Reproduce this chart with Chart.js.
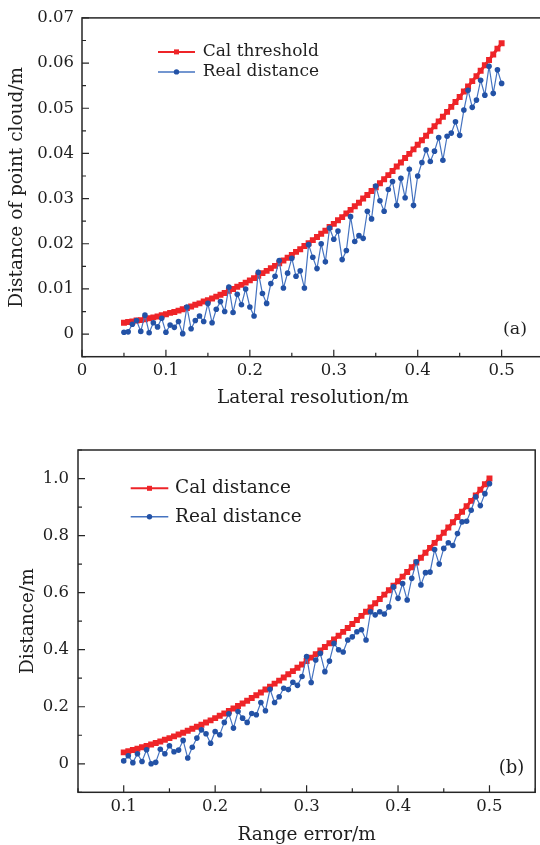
<!DOCTYPE html>
<html>
<head>
<meta charset="utf-8">
<script src="https://cdn.jsdelivr.net/npm/chart.js@4.4.0/dist/chart.umd.min.js"></script>
<style>
  html, body { margin: 0; padding: 0; background: #fff; overflow: hidden; width: 540px; height: 845px; }
  canvas { position: absolute; left: 0; }
  #chartA { top: 0; }
  #chartB { top: 430px; }
</style>
</head>
<body>
<canvas id="chartA" width="560" height="420"></canvas>
<canvas id="chartB" width="540" height="425"></canvas>
<script>
// panel (a): lateral resolution vs distance of point cloud
const xA = [
  0.05, 0.055, 0.06, 0.065, 0.07, 0.075, 0.08, 0.085, 0.09, 0.095,
  0.1, 0.105, 0.11, 0.115, 0.12, 0.125, 0.13, 0.135, 0.14, 0.145,
  0.15, 0.155, 0.16, 0.165, 0.17, 0.175, 0.18, 0.185, 0.19, 0.195,
  0.2, 0.205, 0.21, 0.215, 0.22, 0.225, 0.23, 0.235, 0.24, 0.245,
  0.25, 0.255, 0.26, 0.265, 0.27, 0.275, 0.28, 0.285, 0.29, 0.295,
  0.3, 0.305, 0.31, 0.315, 0.32, 0.325, 0.33, 0.335, 0.34, 0.345,
  0.35, 0.355, 0.36, 0.365, 0.37, 0.375, 0.38, 0.385, 0.39, 0.395,
  0.4, 0.405, 0.41, 0.415, 0.42, 0.425, 0.43, 0.435, 0.44, 0.445,
  0.45, 0.455, 0.46, 0.465, 0.47, 0.475, 0.48, 0.485, 0.49, 0.495,
  0.5
];
const calA = [
  0.0025, 0.0027, 0.0028, 0.0030, 0.0031, 0.0033, 0.0035, 0.0037, 0.0039, 0.0042,
  0.0044, 0.0047, 0.0049, 0.0052, 0.0055, 0.0058, 0.0061, 0.0065, 0.0068, 0.0072,
  0.0075, 0.0079, 0.0083, 0.0087, 0.0091, 0.0096, 0.0100, 0.0105, 0.0109, 0.0114,
  0.0119, 0.0124, 0.0129, 0.0135, 0.0140, 0.0146, 0.0151, 0.0157, 0.0163, 0.0169,
  0.0175, 0.0182, 0.0188, 0.0195, 0.0201, 0.0208, 0.0215, 0.0222, 0.0229, 0.0237,
  0.0244, 0.0252, 0.0259, 0.0267, 0.0275, 0.0283, 0.0291, 0.0300, 0.0308, 0.0317,
  0.0325, 0.0334, 0.0343, 0.0352, 0.0361, 0.0371, 0.0380, 0.0390, 0.0399, 0.0409,
  0.0419, 0.0429, 0.0439, 0.0450, 0.0460, 0.0471, 0.0481, 0.0492, 0.0503, 0.0514,
  0.0525, 0.0537, 0.0548, 0.0560, 0.0571, 0.0583, 0.0595, 0.0607, 0.0619, 0.0632,
  0.0644
];
const realA = [
  0.0004, 0.0005, 0.0022, 0.0030, 0.0006, 0.0042, 0.0003, 0.0025, 0.0016, 0.0035,
  0.0004, 0.0020, 0.0015, 0.0028, 0.0001, 0.0060, 0.0012, 0.0030, 0.0040, 0.0028,
  0.0068, 0.0025, 0.0055, 0.0072, 0.0050, 0.0104, 0.0048, 0.0088, 0.0065, 0.0100,
  0.0060, 0.0040, 0.0137, 0.0090, 0.0068, 0.0112, 0.0128, 0.0163, 0.0102, 0.0135,
  0.0168, 0.0128, 0.0140, 0.0102, 0.0198, 0.0170, 0.0145, 0.0200, 0.0160, 0.0235,
  0.0210, 0.0228, 0.0165, 0.0185, 0.0260, 0.0205, 0.0218, 0.0212, 0.0272, 0.0255,
  0.0328, 0.0295, 0.0272, 0.0320, 0.0338, 0.0285, 0.0345, 0.0302, 0.0365, 0.0285,
  0.0350, 0.0380, 0.0408, 0.0382, 0.0405, 0.0435, 0.0385, 0.0438, 0.0445, 0.0470,
  0.0440, 0.0496, 0.0540, 0.0502, 0.0518, 0.0562, 0.0529, 0.0593, 0.0533, 0.0585,
  0.0555
];

// panel (b): range error vs distance
const xB = [
  0.1, 0.105, 0.11, 0.115, 0.12, 0.125, 0.13, 0.135, 0.14, 0.145,
  0.15, 0.155, 0.16, 0.165, 0.17, 0.175, 0.18, 0.185, 0.19, 0.195,
  0.2, 0.205, 0.21, 0.215, 0.22, 0.225, 0.23, 0.235, 0.24, 0.245,
  0.25, 0.255, 0.26, 0.265, 0.27, 0.275, 0.28, 0.285, 0.29, 0.295,
  0.3, 0.305, 0.31, 0.315, 0.32, 0.325, 0.33, 0.335, 0.34, 0.345,
  0.35, 0.355, 0.36, 0.365, 0.37, 0.375, 0.38, 0.385, 0.39, 0.395,
  0.4, 0.405, 0.41, 0.415, 0.42, 0.425, 0.43, 0.435, 0.44, 0.445,
  0.45, 0.455, 0.46, 0.465, 0.47, 0.475, 0.48, 0.485, 0.49, 0.495,
  0.5
];
const calB = [
  0.0400, 0.0441, 0.0484, 0.0529, 0.0576, 0.0625, 0.0676, 0.0729, 0.0784, 0.0841,
  0.0900, 0.0961, 0.1024, 0.1089, 0.1156, 0.1225, 0.1296, 0.1369, 0.1444, 0.1521,
  0.1600, 0.1681, 0.1764, 0.1849, 0.1936, 0.2025, 0.2116, 0.2209, 0.2304, 0.2401,
  0.2500, 0.2601, 0.2704, 0.2809, 0.2916, 0.3025, 0.3136, 0.3249, 0.3364, 0.3481,
  0.3600, 0.3721, 0.3844, 0.3969, 0.4096, 0.4225, 0.4356, 0.4489, 0.4624, 0.4761,
  0.4900, 0.5041, 0.5184, 0.5329, 0.5476, 0.5625, 0.5776, 0.5929, 0.6084, 0.6241,
  0.6400, 0.6561, 0.6724, 0.6889, 0.7056, 0.7225, 0.7396, 0.7569, 0.7744, 0.7921,
  0.8100, 0.8281, 0.8464, 0.8649, 0.8836, 0.9025, 0.9216, 0.9409, 0.9604, 0.9801,
  1.0000
];
const realB = [
  0.010, 0.028, 0.004, 0.035, 0.008, 0.049, 0.000, 0.005, 0.051, 0.035,
  0.063, 0.042, 0.048, 0.082, 0.020, 0.058, 0.090, 0.119, 0.105, 0.072,
  0.113, 0.102, 0.145, 0.175, 0.125, 0.183, 0.160, 0.145, 0.176, 0.172,
  0.215, 0.186, 0.261, 0.215, 0.235, 0.265, 0.260, 0.286, 0.275, 0.306,
  0.376, 0.285, 0.364, 0.387, 0.323, 0.360, 0.422, 0.400, 0.392, 0.434,
  0.445, 0.463, 0.470, 0.434, 0.533, 0.522, 0.533, 0.525, 0.550, 0.620,
  0.580, 0.632, 0.574, 0.650, 0.708, 0.627, 0.670, 0.672, 0.751, 0.700,
  0.755, 0.775, 0.765, 0.807, 0.848, 0.850, 0.889, 0.936, 0.905, 0.947,
  0.982
];

const RED = '#ee2428';
const BLUE = '#2352a6';
const BLUE_LINE = '#4573c0';
const INK = '#1e1e1e';
const FONT = "'DejaVu Serif', 'Liberation Serif', serif";

function points(xs, ys) {
  return xs.map((x, i) => ({ x: x, y: ys[i] }));
}

function calSet(label, xs, ys) {
  return {
    label: label, data: points(xs, ys), order: 2,
    borderColor: RED, backgroundColor: RED, borderWidth: 3,
    pointStyle: 'rect', pointRadius: 4.2, pointBorderWidth: 0, pointBackgroundColor: RED
  };
}

function realSet(label, xs, ys) {
  return {
    label: label, data: points(xs, ys), order: 1,
    borderColor: BLUE_LINE, backgroundColor: BLUE, borderWidth: 1.2,
    pointStyle: 'circle', pointRadius: 2.8, pointBorderWidth: 0, pointBackgroundColor: BLUE
  };
}

// box, inward ticks, legend and panel tag
const framePlugin = {
  id: 'frame',
  afterDraw(chart, args, opts) {
    const { ctx, chartArea: a, scales } = chart;
    ctx.save();
    ctx.strokeStyle = '#262626';
    ctx.lineWidth = 1.5;
    ctx.strokeRect(a.left, a.top, a.right - a.left, a.bottom - a.top);

    ctx.lineWidth = 1.2;
    ctx.beginPath();
    scales.x.ticks.forEach((t, i) => {
      const px = scales.x.getPixelForTick(i);
      ctx.moveTo(px, a.bottom);
      ctx.lineTo(px, a.bottom - (t.label ? 7 : 4));
    });
    scales.y.ticks.forEach((t, i) => {
      const py = scales.y.getPixelForTick(i);
      ctx.moveTo(a.left, py);
      ctx.lineTo(a.left + (t.label ? 7 : 4), py);
    });
    ctx.stroke();

    const L = opts.legend;
    ctx.font = L.size + 'px ' + FONT;
    ctx.textBaseline = 'middle';
    ctx.textAlign = 'left';
    chart.data.datasets.forEach((ds, i) => {
      const y = a.top + L.dy + i * L.gap;
      const x0 = a.left + L.dx;
      ctx.strokeStyle = ds.borderColor;
      ctx.lineWidth = ds.pointStyle === 'rect' ? 2 : 1.5;
      ctx.beginPath();
      ctx.moveTo(x0, y);
      ctx.lineTo(x0 + L.len, y);
      ctx.stroke();
      ctx.fillStyle = ds.pointBackgroundColor;
      const cx = x0 + L.len / 2;
      if (ds.pointStyle === 'rect') {
        ctx.fillRect(cx - 2.5, y - 2.5, 5, 5);
      } else {
        ctx.beginPath();
        ctx.arc(cx, y, 2.7, 0, Math.PI * 2);
        ctx.fill();
      }
      ctx.fillStyle = INK;
      ctx.fillText(ds.label, a.left + L.textDx, y);
    });

    const T = opts.tag;
    ctx.font = T.size + 'px ' + FONT;
    ctx.textAlign = 'right';
    ctx.fillStyle = INK;
    ctx.fillText(T.text, a.right - T.dx, a.bottom - T.dy);
    ctx.restore();
  }
};

function axis(cfg) {
  return {
    type: 'linear',
    min: cfg.min,
    max: cfg.max,
    afterFit: cfg.fit,
    grid: { display: false, drawTicks: false },
    border: { display: false },
    ticks: {
      stepSize: cfg.step,
      maxTicksLimit: 200,
      autoSkip: false,
      maxRotation: 0,
      padding: cfg.pad,
      color: INK,
      font: { family: FONT, size: 16.5 },
      callback: cfg.label
    },
    title: {
      display: true,
      text: cfg.title,
      color: INK,
      font: { family: FONT, size: 18.5 },
      padding: cfg.titlePad
    }
  };
}

function makeChart(id, cfg) {
  return new Chart(document.getElementById(id), {
    type: 'line',
    data: { datasets: cfg.datasets },
    options: {
      responsive: false,
      animation: false,
      devicePixelRatio: 1,
      events: [],
      layout: { padding: cfg.padding },
      plugins: {
        legend: { display: false },
        tooltip: { enabled: false },
        frame: cfg.frame
      },
      scales: { x: cfg.x, y: cfg.y }
    },
    plugins: [framePlugin]
  });
}

makeChart('chartA', {
  datasets: [calSet('Cal threshold', xA, calA), realSet('Real distance', xA, realA)],
  padding: { top: 14, right: 16.4, left: 0, bottom: 0 },
  x: axis({
    min: 0, max: 0.55, step: 0.05, pad: 4,
    fit: s => { s.height = 63.3; },
    title: 'Lateral resolution/m', titlePad: { top: 0, bottom: 11 },
    label: v => {
      const k = Math.round(v * 100);
      if (k % 10 !== 0) return '';
      return k === 0 ? '0' : (k / 100).toFixed(1);
    }
  }),
  y: axis({
    min: -0.005, max: 0.07, step: 0.005, pad: 8,
    fit: s => { s.width = 82; },
    title: 'Distance of point cloud/m', titlePad: { top: 6, bottom: 0 },
    label: v => {
      const k = Math.round(v * 1000);
      if (k < 0 || k % 10 !== 0) return '';
      return k === 0 ? '0' : (k / 1000).toFixed(2);
    }
  }),
  frame: {
    legend: { dx: 76, dy: 34, gap: 20, len: 37, textDx: 120.7, size: 17 },
    tag: { text: '(a)', dx: 16.6, dy: 27.7, size: 17.5 }
  }
});

makeChart('chartB', {
  datasets: [calSet('Cal distance', xB, calB), realSet('Real distance', xB, realB)],
  padding: { top: 20, right: 1, left: 0, bottom: 0 },
  x: axis({
    min: 0.05, max: 0.55, step: 0.05, pad: 4.8,
    fit: s => { s.height = 62.7; },
    title: 'Range error/m', titlePad: { top: 0, bottom: 9 },
    label: v => {
      const k = Math.round(v * 100);
      if (k % 10 !== 0) return '';
      return (k / 100).toFixed(1);
    }
  }),
  y: axis({
    min: -0.1, max: 1.1, step: 0.1, pad: 9,
    fit: s => { s.width = 78; },
    title: 'Distance/m', titlePad: { top: 17, bottom: 0 },
    label: v => {
      const k = Math.round(v * 10);
      if (k < 0 || k > 10 || k % 2 !== 0) return '';
      return k === 0 ? '0' : (k / 10).toFixed(1);
    }
  }),
  frame: {
    legend: { dx: 52.7, dy: 38.3, gap: 28.4, len: 37.6, textDx: 97, size: 18.5 },
    tag: { text: '(b)', dx: 11, dy: 24.3, size: 18 }
  }
});
</script>
</body>
</html>
